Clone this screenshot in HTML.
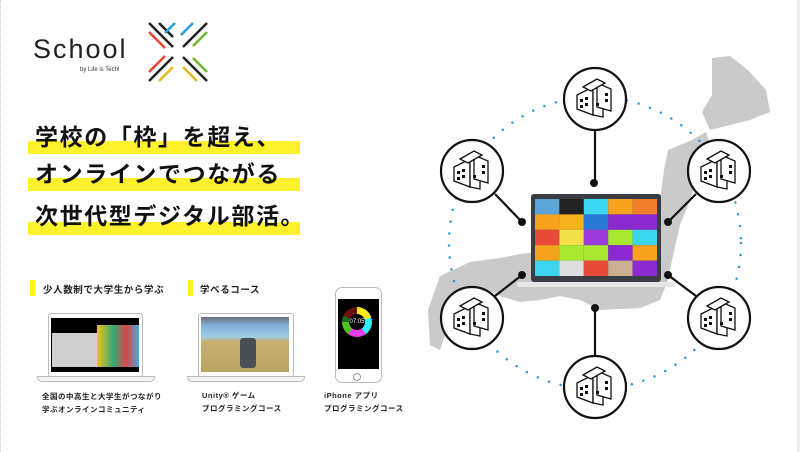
<!DOCTYPE html>
<html><head><meta charset="utf-8"><style>
body{margin:0;width:800px;height:452px;overflow:hidden;background:#fff;font-family:"Liberation Sans","Noto Sans CJK JP",sans-serif;position:relative}
.abs{position:absolute}
.bar{position:absolute;left:28px;width:272px;height:13px;background:#fff22c}
.hl{position:absolute;left:35px;font-size:23px;font-weight:bold;letter-spacing:1.6px;color:#111;white-space:nowrap;line-height:30px}
.sub{position:absolute;font-size:9.5px;font-weight:bold;letter-spacing:0.6px;color:#222;white-space:nowrap}
.cap{position:absolute;font-size:7.5px;font-weight:bold;letter-spacing:0.5px;color:#222;line-height:13px;white-space:nowrap}
.mk{position:absolute;width:5px;height:16px;background:#fff22c}
</style></head><body>
<div class="abs" style="left:0;top:0;width:1px;height:452px;border-left:1px dotted #ccc"></div>
<div class="abs" style="left:797px;top:0;width:3px;height:452px;background:#eee"></div>
<div class="abs" style="left:33px;top:34px;font-size:27px;letter-spacing:2px;color:#222;font-weight:300">School</div>
<div class="abs" style="left:80px;top:67px;font-size:6px;color:#333">by Life is Tech!</div>
<svg class="abs" style="left:145px;top:20px" width="66" height="64" viewBox="0 0 66 64" stroke-width="2.6">
<line x1="4" y1="3" x2="28" y2="27" stroke="#222"/><line x1="4" y1="12" x2="20" y2="28" stroke="#e94a35"/>
<line x1="14" y1="3" x2="28" y2="17" stroke="#222"/>
<line x1="62" y1="3" x2="38" y2="27" stroke="#222"/><line x1="48" y1="3" x2="36" y2="15" stroke="#2aa0d8"/>
<line x1="30" y1="3" x2="20" y2="13" stroke="#2aa0d8"/>
<line x1="62" y1="12" x2="48" y2="26" stroke="#6fb52e"/>
<line x1="4" y1="61" x2="28" y2="37" stroke="#222"/><line x1="4" y1="52" x2="20" y2="36" stroke="#e94a35"/>
<line x1="14" y1="61" x2="28" y2="47" stroke="#e8b81c"/>
<line x1="62" y1="61" x2="38" y2="37" stroke="#222"/><line x1="62" y1="52" x2="48" y2="38" stroke="#6fb52e"/>
<line x1="52" y1="61" x2="38" y2="47" stroke="#e8b81c"/>
</svg>
<div class="bar" style="top:141px"></div><div class="bar" style="top:178px"></div><div class="bar" style="top:222px"></div>
<div class="hl" style="top:122px">学校の「枠」を超え、</div>
<div class="hl" style="top:159px">オンラインでつながる</div>
<div class="hl" style="top:201px">次世代型デジタル部活。</div>
<div class="mk" style="left:30px;top:280px"></div><div class="sub" style="left:43px;top:282px">少人数制で大学生から学ぶ</div>
<div class="mk" style="left:188px;top:280px"></div><div class="sub" style="left:200px;top:282px">学べるコース</div>
<div class="abs" style="left:48px;top:313px;width:93px;height:62px;border:1px solid #bbb;border-radius:3px;background:#fff"></div>
<div class="abs" style="left:51px;top:318px;width:88px;height:54px;background:#000"></div>
<div class="abs" style="left:52px;top:333px;width:45px;height:34px;background:#cfcfcf"></div>
<div class="abs" style="left:97px;top:325px;width:42px;height:42px;background:linear-gradient(90deg,#f0c020,#3a7 40%,#d44 70%,#4ad)"></div>
<div class="abs" style="left:37px;top:376px;width:116px;height:4px;border:1px solid #bbb;border-radius:0 0 5px 5px;background:#f4f4f4"></div>
<div class="abs" style="left:198px;top:313px;width:94px;height:62px;border:1px solid #bbb;border-radius:3px;background:#fff"></div>
<div class="abs" style="left:201px;top:317px;width:88px;height:55px;background:linear-gradient(180deg,#6a6e78 0%,#7fb0d8 15%,#9dcbe8 35%,#c7b072 45%,#b8a35f 100%)"></div>
<div class="abs" style="left:240px;top:338px;width:16px;height:30px;background:#4a4e55;border-radius:3px"></div>
<div class="abs" style="left:187px;top:376px;width:116px;height:4px;border:1px solid #bbb;border-radius:0 0 5px 5px;background:#f4f4f4"></div>
<div class="abs" style="left:335px;top:287px;width:45px;height:94px;border:1px solid #bbb;border-radius:7px;background:#fff"></div>
<div class="abs" style="left:338px;top:299px;width:41px;height:70px;background:#000"></div>
<div class="abs" style="left:342px;top:307px;width:30px;height:30px;border-radius:50%;background:conic-gradient(#ffe81e 0 20%,#2ef0ff 20% 40%,#e83ee8 40% 60%,#4ec21e 60% 75%,#1a6b1a 75% 82%,#6b1010 82% 100%)"></div>
<div class="abs" style="left:349px;top:314px;width:16px;height:16px;border-radius:50%;background:#000;color:#fff;font-size:6px;text-align:center;line-height:16px">07:05</div>
<div class="abs" style="left:353px;top:373px;width:6px;height:6px;border:1px solid #999;border-radius:50%"></div>
<div class="cap" style="left:42px;top:390px">全国の中高生と大学生がつながり<br>学ぶオンラインコミュニティ</div>
<div class="cap" style="left:202px;top:389px">Unity® ゲーム<br>プログラミングコース</div>
<div class="cap" style="left:324px;top:389px">iPhone アプリ<br>プログラミングコース</div>
<svg class="abs" style="left:0;top:0" width="800" height="452">
<g fill="#cacaca">
<polygon points="712,58 730,56 748,70 766,90 770,112 750,120 730,125 710,130 702,112 712,95"/>
<polygon points="668,150 692,140 706,132 712,150 700,170 690,200 680,225 672,260 668,280 660,300 640,308 600,310 580,300 560,296 540,300 520,302 500,296 488,290 470,296 450,320 440,350 430,345 428,310 440,276 470,262 500,258 520,254 560,250 620,250 650,232 660,200 664,170"/>
</g>
<circle cx="595" cy="243" r="146" fill="none" stroke="#2a9bd0" stroke-width="2.5" stroke-dasharray="0 12" stroke-linecap="round"/>
<g stroke="#111" stroke-width="2.2">
<line x1="595" y1="130" x2="595" y2="183"/><line x1="495" y1="194" x2="522" y2="222"/><line x1="696" y1="194" x2="668" y2="222"/>
<line x1="495" y1="296" x2="522" y2="275"/><line x1="696" y1="296" x2="668" y2="275"/><line x1="595" y1="308" x2="595" y2="356"/>
</g>
<g fill="#111"><circle cx="594" cy="183" r="4"/><circle cx="522" cy="222" r="4"/><circle cx="668" cy="222" r="4"/><circle cx="522" cy="275" r="4"/><circle cx="668" cy="275" r="4"/><circle cx="595" cy="308" r="4"/></g>
<rect x="531" y="194" width="130" height="88" rx="3" fill="#3a3d44"/>
<rect x="517" y="282" width="158" height="5" rx="2" fill="#e6e6e6"/>
<g>
<rect x="535" y="199" width="24.4" height="15.4" fill="#5aa6d8"/><rect x="559.4" y="199" width="24.4" height="15.4" fill="#222"/><rect x="583.8" y="199" width="24.4" height="15.4" fill="#3cd6f0"/><rect x="608.2" y="199" width="24.4" height="15.4" fill="#f6a21c"/><rect x="632.6" y="199" width="24.4" height="15.4" fill="#f07e2a"/>
<rect x="535" y="214.4" width="24.4" height="15.4" fill="#f6a21c"/><rect x="559.4" y="214.4" width="24.4" height="15.4" fill="#f6b21c"/><rect x="583.8" y="214.4" width="24.4" height="15.4" fill="#2a7ad8"/><rect x="608.2" y="214.4" width="24.4" height="15.4" fill="#8a2ad0"/><rect x="632.6" y="214.4" width="24.4" height="15.4" fill="#8a2ad0"/>
<rect x="535" y="229.8" width="24.4" height="15.4" fill="#e84a3a"/><rect x="559.4" y="229.8" width="24.4" height="15.4" fill="#f4e04a"/><rect x="583.8" y="229.8" width="24.4" height="15.4" fill="#9a3ad8"/><rect x="608.2" y="229.8" width="24.4" height="15.4" fill="#a8e830"/><rect x="632.6" y="229.8" width="24.4" height="15.4" fill="#3cd6f0"/>
<rect x="535" y="245.2" width="24.4" height="15.4" fill="#f6a21c"/><rect x="559.4" y="245.2" width="24.4" height="15.4" fill="#a8e830"/><rect x="583.8" y="245.2" width="24.4" height="15.4" fill="#a8e830"/><rect x="608.2" y="245.2" width="24.4" height="15.4" fill="#8a2ad0"/><rect x="632.6" y="245.2" width="24.4" height="15.4" fill="#f6a21c"/>
<rect x="535" y="260.6" width="24.4" height="15.4" fill="#3cd6f0"/><rect x="559.4" y="260.6" width="24.4" height="15.4" fill="#ddd"/><rect x="583.8" y="260.6" width="24.4" height="15.4" fill="#e84a3a"/><rect x="608.2" y="260.6" width="24.4" height="15.4" fill="#c8b090"/><rect x="632.6" y="260.6" width="24.4" height="15.4" fill="#8a2ad0"/>
</g>
<defs><g id="b" fill="#fff" stroke="#111" stroke-width="1.3">
<polygon points="-18,-4 -2,-12 -2,16 -18,10"/><polygon points="-2,-12 8,-8 8,18 -2,16"/>
<polygon points="2,-16 16,-10 16,12 2,8"/><polygon points="-12,-12 2,-20 10,-16 -4,-8"/>
<g fill="#111" stroke="none"><rect x="-15" y="0" width="3" height="3"/><rect x="-10" y="-2" width="3" height="3"/><rect x="-15" y="6" width="3" height="3"/><rect x="-10" y="4" width="3" height="3"/><rect x="10" y="-6" width="3" height="3"/><rect x="10" y="0" width="3" height="3"/><rect x="1" y="4" width="3" height="3"/></g>
</g></defs>
<g fill="#fff" stroke="#111" stroke-width="2.2">
<circle cx="595" cy="99" r="31"/><circle cx="472" cy="171" r="31"/><circle cx="719" cy="171" r="31"/><circle cx="472" cy="318" r="31"/><circle cx="719" cy="318" r="31"/><circle cx="595" cy="387" r="31"/>
</g>
<use href="#b" x="595" y="99"/><use href="#b" x="472" y="171"/><use href="#b" x="719" y="171"/><use href="#b" x="472" y="318"/><use href="#b" x="719" y="318"/><use href="#b" x="595" y="387"/>
</svg>
</body></html>
